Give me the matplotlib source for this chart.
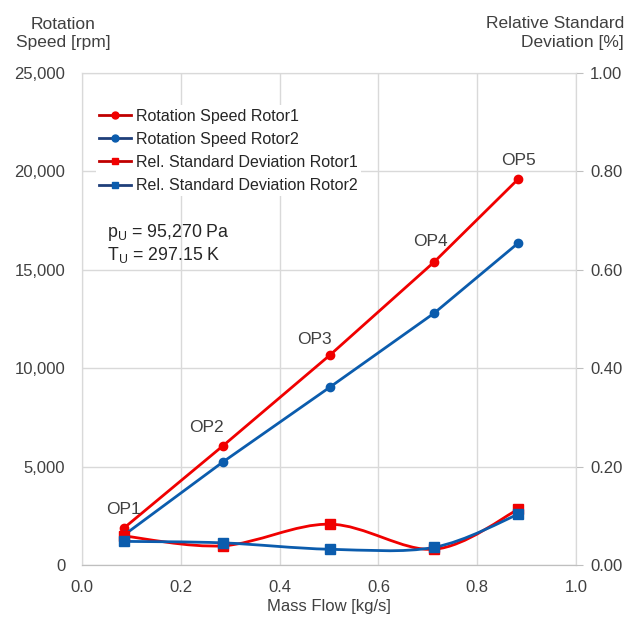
import matplotlib
matplotlib.use("Agg")
import matplotlib.pyplot as plt
from matplotlib.path import Path
from matplotlib.patches import PathPatch
from matplotlib.lines import Line2D
from matplotlib.ticker import FuncFormatter, MultipleLocator

plt.rcParams['font.family'] = ['Liberation Sans', 'DejaVu Sans']
plt.rcParams['mathtext.fontset'] = 'custom'
plt.rcParams['mathtext.rm'] = 'Liberation Sans'
plt.rcParams['mathtext.it'] = 'Liberation Sans'

# ---- data ----
op_labels = ["OP1", "OP2", "OP3", "OP4", "OP5"]
mass_flow = [0.085, 0.285, 0.502, 0.713, 0.883]
speed_rotor1 = [1880, 6050, 10670, 15400, 19610]
speed_rotor2 = [1520, 5230, 9040, 12800, 16360]
dev_rotor1 = [0.059, 0.039, 0.083, 0.032, 0.113]
dev_rotor2 = [0.048, 0.045, 0.032, 0.036, 0.103]

RED = "#F00000"
BLUE = "#0B5CAD"
RED_DK = "#C00000"
BLUE_DK = "#1F3F7A"
TXT = "#404040"
GRID = "#D9D9D9"

fig = plt.figure(figsize=(6.28, 6.21), dpi=100)
ax = fig.add_axes([82/628, 1-565/621, (576-82)/628, (565-73)/621])
ax2 = ax.twinx()

ax.set_xlim(0, 1.0)
ax.set_ylim(0, 25000)
ax2.set_ylim(0, 1.0)

ax.xaxis.set_major_locator(MultipleLocator(0.2))
ax.yaxis.set_major_locator(MultipleLocator(5000))
ax2.yaxis.set_major_locator(MultipleLocator(0.2))
ax.xaxis.set_major_formatter(FuncFormatter(lambda v, p: f"{v:.1f}"))
ax.yaxis.set_major_formatter(FuncFormatter(lambda v, p: f"{int(round(v)):,}"))
ax2.yaxis.set_major_formatter(FuncFormatter(lambda v, p: f"{v:.2f}"))

ax.grid(True, color=GRID, linewidth=1.0)
ax.set_axisbelow(True)
for a in (ax, ax2):
    for s in a.spines.values():
        s.set_color(GRID)
    a.spines['bottom'].set_color("#BFBFBF")
ax.tick_params(axis='y', length=0, labelsize=12, labelcolor=TXT, pad=12)
ax.tick_params(axis='x', length=0, labelsize=12, labelcolor=TXT, pad=11)
ax2.tick_params(axis='y', length=5, color="#BFBFBF", labelsize=12, labelcolor=TXT, pad=5)

ax.set_xlabel("Mass Flow [kg/s]", fontsize=12, color=TXT, labelpad=3)
fig.text(63/628, 1-33.5/621, "Rotation\nSpeed [rpm]", ha='center', va='center',
         fontsize=12.5, color=TXT, linespacing=1.27)
fig.text(624/628, 1-33/621, "Relative Standard\nDeviation [%]", ha='right', va='center',
         fontsize=12.5, color=TXT, linespacing=1.27, multialignment='right')

# speed lines (straight)
ax.plot(mass_flow, speed_rotor1, color=RED, lw=2, marker='o', ms=6, zorder=3)
ax.plot(mass_flow, speed_rotor2, color=BLUE, lw=2, marker='o', ms=6, zorder=3)

# smoothed deviation lines (Bezier through data points)
def smooth_path(xs, ys):
    pts = list(zip(xs, ys))
    n = len(pts)
    verts = [pts[0]]
    codes = [Path.MOVETO]
    for i in range(n - 1):
        p0 = pts[i - 1] if i > 0 else pts[i]
        p1 = pts[i]
        p2 = pts[i + 1]
        p3 = pts[i + 2] if i + 2 < n else pts[i + 1]
        c1 = (p1[0] + (p2[0] - p0[0]) / 6, p1[1] + (p2[1] - p0[1]) / 6)
        c2 = (p2[0] - (p3[0] - p1[0]) / 6, p2[1] - (p3[1] - p1[1]) / 6)
        verts += [c1, c2, p2]
        codes += [Path.CURVE4] * 3
    return Path(verts, codes)

for ys, col in ((dev_rotor1, RED), (dev_rotor2, BLUE)):
    ax2.add_patch(PathPatch(smooth_path(mass_flow, ys), fill=False, edgecolor=col,
                            lw=2, zorder=3))
    ax2.plot(mass_flow, ys, ls='none', marker='s', ms=7, color=col, zorder=4)

# OP annotations
offsets = [(0, 8), (-12, 8), (-11, 6), (-3, 9), (0, 8)]
for lab, x, y, off in zip(op_labels, mass_flow, speed_rotor1, offsets):
    ax.annotate(lab, (x, y), xytext=off, textcoords='offset points',
                ha='center', va='bottom', fontsize=12.5, color=TXT)

# legend
handles = [
    Line2D([], [], color=RED_DK, lw=2, marker='o', ms=5, mfc=RED, mec=RED),
    Line2D([], [], color=BLUE_DK, lw=2, marker='o', ms=5, mfc=BLUE, mec=BLUE),
    Line2D([], [], color=RED_DK, lw=2, marker='s', ms=5, mfc=RED, mec=RED),
    Line2D([], [], color=BLUE_DK, lw=2, marker='s', ms=5, mfc=BLUE, mec=BLUE),
]
labels = ["Rotation Speed Rotor1", "Rotation Speed Rotor2",
          "Rel. Standard Deviation Rotor1", "Rel. Standard Deviation Rotor2"]
leg = ax2.legend(handles, labels, loc='upper left', bbox_to_anchor=(0.028, 0.934),
                 frameon=True, framealpha=1, edgecolor='none', fontsize=11.5,
                 handlelength=2.0, handletextpad=0.3, labelspacing=0.51,
                 borderpad=0.2, borderaxespad=0)
for t in leg.get_texts():
    t.set_color("#262626")

ax2.text(0.05, 0.697, "p$_\\mathrm{U}$ = 95,270 Pa\nT$_\\mathrm{U}$ = 297.15 K",
         transform=ax.transAxes, fontsize=12.8, color="#262626", va='top', ha='left',
         linespacing=1.15)

fig.savefig("out.png", dpi=100)
